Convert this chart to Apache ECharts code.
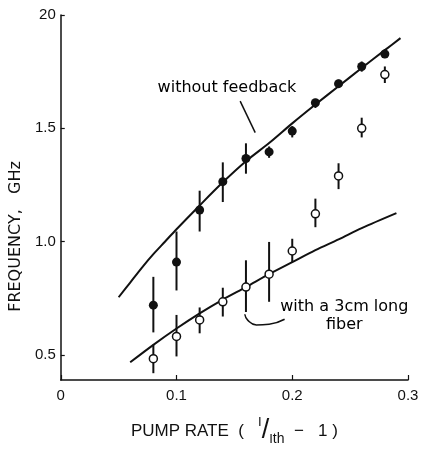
<!DOCTYPE html>
<html><head><meta charset="utf-8">
<script src="https://cdn.jsdelivr.net/npm/echarts@6/dist/echarts.min.js"></script>
<style>html,body{margin:0;padding:0;background:#fff}#c{width:423px;height:451px}</style>
</head><body><div id="c"></div>
<script>
// Data
const pumpRate = [0.08, 0.10, 0.12, 0.14, 0.16, 0.18, 0.20, 0.22, 0.24, 0.26, 0.28];
const noFbFreq = [0.72, 0.91, 1.14, 1.265, 1.367, 1.396, 1.488, 1.613, 1.697, 1.773, 1.828];
const noFbLow  = [0.60, 0.785, 1.045, 1.175, 1.30, 1.37, 1.46, 1.59, 1.68, 1.75, 1.81];
const noFbHigh = [0.845, 1.045, 1.225, 1.35, 1.434, 1.42, 1.51, 1.63, 1.715, 1.795, 1.85];
const fiberFreq = [0.484, 0.582, 0.655, 0.735, 0.80, 0.857, 0.959, 1.123, 1.29, 1.50, 1.737];
const fiberLow  = [0.42, 0.494, 0.596, 0.67, 0.69, 0.735, 0.91, 1.064, 1.232, 1.46, 1.70];
const fiberHigh = [0.546, 0.677, 0.71, 0.797, 0.918, 0.999, 1.013, 1.19, 1.346, 1.547, 1.773];

const noFbCurveX = [0.05, 0.06, 0.07, 0.08, 0.09, 0.10, 0.12, 0.14, 0.16, 0.18, 0.20, 0.22, 0.24, 0.26, 0.28, 0.2935];
const noFbCurveY = [0.755, 0.82, 0.885, 0.945, 1.0, 1.055, 1.16, 1.262, 1.355, 1.435, 1.522, 1.605, 1.686, 1.766, 1.845, 1.898];
const fiberCurveX = [0.06, 0.08, 0.10, 0.12, 0.14, 0.16, 0.18, 0.20, 0.22, 0.24, 0.26, 0.29];
const fiberCurveY = [0.468, 0.545, 0.617, 0.684, 0.745, 0.80, 0.857, 0.91, 0.963, 1.01, 1.06, 1.126];

const leader1X = [0.155, 0.168];
const leader1Y = [1.62, 1.481];
const leader2X = [0.159, 0.1615, 0.169, 0.180, 0.1934];
const leader2Y = [0.680, 0.654, 0.633, 0.636, 0.658];

const yTicks = [0.5, 1.0, 1.5, 2.0];
const yTickLabels = ['0.5', '1.0', '1.5', '20'];
const xTickLabels = ['0', '0.1', '0.2', '0.3'];

const labelNoFb = {x: 0.1436, y: 1.68, text: 'without feedback'};
const labelFiber = {x: 0.245, y: 0.672, text: 'with a 3cm long\nfiber'};

const INK = '#111';
const zip = (a, b) => a.map((v, i) => [v, b[i]]);
const errData = (lo, hi) => pumpRate.map((x, i) => [x, lo[i], hi[i]]);
const errRender = (params, api) => {
  const p1 = api.coord([api.value(0), api.value(1)]);
  const p2 = api.coord([api.value(0), api.value(2)]);
  return {type: 'line', shape: {x1: p1[0], y1: p1[1], x2: p2[0], y2: p2[1]},
          style: {stroke: INK, lineWidth: 2}};
};

const chart = echarts.init(document.getElementById('c'), null, {renderer: 'canvas'});
chart.setOption({
  backgroundColor: '#fff',
  animation: false,
  grid: {left: 57, right: 15, top: 15, bottom: 69, containLabel: false},
  xAxis: {
    type: 'value', min: 0, max: 0.3, interval: 0.1,
    axisLine: {lineStyle: {color: INK, width: 1.5}},
    axisTick: {inside: true, length: 5, lineStyle: {color: INK, width: 1.2}},
    splitLine: {show: false},
    axisLabel: {color: INK, fontFamily: 'Liberation Sans', fontSize: 15, margin: 8,
      formatter: v => xTickLabels[Math.round(v * 10)]},
    name: '{a|PUMP RATE  (   }{sup|I}{sl|/}{sub|I}{th|th}{a|  \u2212   1 )}',
    nameLocation: 'middle', nameGap: 36,
    nameTextStyle: {
      color: INK, fontFamily: 'Liberation Sans',
      rich: {
        a: {fontSize: 17, fontFamily: 'Liberation Sans', color: INK, lineHeight: 30, verticalAlign: 'middle'},
        sup: {fontSize: 13, fontFamily: 'Liberation Sans', color: INK, lineHeight: 30, verticalAlign: 'top'},
        sl: {fontSize: 27, fontFamily: 'Liberation Sans', color: INK, lineHeight: 30, verticalAlign: 'middle'},
        sub: {fontSize: 13, fontFamily: 'Liberation Sans', color: INK, lineHeight: 30, verticalAlign: 'bottom'},
        th: {fontSize: 14, fontFamily: 'Liberation Sans', color: INK, lineHeight: 22, verticalAlign: 'bottom'}
      }
    }
  },
  yAxis: {
    type: 'value', min: 0.39, max: 2.0,
    axisLine: {show: true, lineStyle: {color: INK, width: 1.5}},
    axisTick: {show: true, inside: true, length: 4, customValues: yTicks, lineStyle: {color: INK, width: 1.2}},
    splitLine: {show: false},
    axisLabel: {color: INK, fontFamily: 'Liberation Sans', fontSize: 15, margin: 5, customValues: yTicks,
      formatter: v => yTickLabels[yTicks.findIndex(t => Math.abs(t - v) < 1e-6)]},
    name: 'FREQUENCY,   GHz',
    nameLocation: 'middle', nameGap: 30, nameRotate: 90,
    nameTextStyle: {color: INK, fontFamily: 'DejaVu Sans', fontSize: 16, padding: [0, 78, 0, 0]}
  },
  series: [
    {type: 'line', data: zip(noFbCurveX, noFbCurveY), smooth: 0.3, symbol: 'none',
     lineStyle: {color: INK, width: 2}, z: 2},
    {type: 'line', data: zip(fiberCurveX, fiberCurveY), smooth: 0.3, symbol: 'none',
     lineStyle: {color: INK, width: 2}, z: 2},
    {type: 'line', data: zip(leader1X, leader1Y), symbol: 'none',
     lineStyle: {color: INK, width: 1.5}, z: 2},
    {type: 'line', data: zip(leader2X, leader2Y), smooth: 0.5, symbol: 'none',
     lineStyle: {color: INK, width: 1.5}, z: 2},
    {type: 'custom', renderItem: errRender, data: errData(noFbLow, noFbHigh), z: 3},
    {type: 'custom', renderItem: errRender, data: errData(fiberLow, fiberHigh), z: 3},
    {type: 'scatter', data: zip(pumpRate, noFbFreq), symbol: 'circle', symbolSize: 9,
     itemStyle: {color: INK, opacity: 1}, z: 4},
    {type: 'scatter', data: zip(pumpRate, fiberFreq), symbol: 'circle', symbolSize: 8,
     itemStyle: {color: '#fff', borderColor: INK, borderWidth: 1.5, opacity: 1}, z: 4},
    {type: 'scatter', symbolSize: 0, z: 5, silent: true, itemStyle: {opacity: 1},
     data: [[labelNoFb.x, labelNoFb.y], [labelFiber.x, labelFiber.y]],
     label: {show: true, position: 'inside', color: '#000', opacity: 1, fontFamily: 'DejaVu Sans', fontSize: 16,
       lineHeight: 18, align: 'center',
       formatter: p => p.dataIndex === 0 ? labelNoFb.text : labelFiber.text}}
  ]
});
</script></body></html>
